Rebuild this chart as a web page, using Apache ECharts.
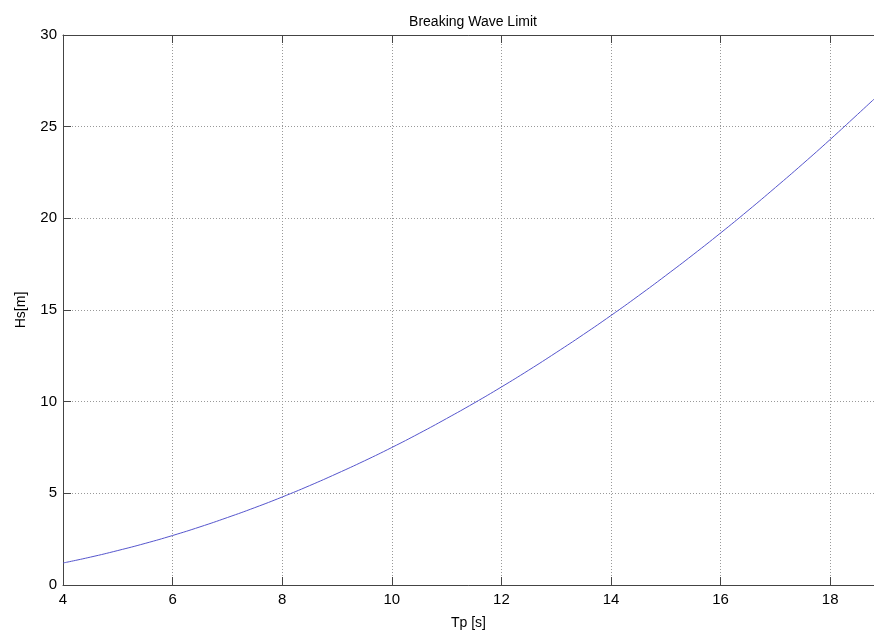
<!DOCTYPE html>
<html><head><meta charset="utf-8">
<script src="https://cdn.jsdelivr.net/npm/echarts@6/dist/echarts.min.js"></script>
<style>html,body{margin:0;padding:0;background:#fff}#c{width:874px;height:635px}</style>
</head><body><div id="c"></div>
<script>
const tp = [4,4.5,5,5.5,6,6.5,7,7.5,8,8.5,9,9.5,10,10.5,11,11.5,12,12.5,13,13.5,14,14.5,15,15.5,16,16.5,17,17.5,18,18.5,18.8];
const hs = [1.2,1.52,1.88,2.27,2.7,3.17,3.68,4.22,4.8,5.42,6.08,6.77,7.5,8.27,9.08,9.92,10.8,11.72,12.68,13.67,14.7,15.77,16.88,18.02,19.2,20.42,21.68,22.97,24.3,25.67,26.5];
const title = 'Breaking Wave Limit';
const xName = 'Tp [s]';
const yName = 'Hs[m]';

const chart = echarts.init(document.getElementById('c'), null, {renderer:'canvas'});
const axisColor = '#444';
const font = 'Liberation Sans, Arial, sans-serif';
chart.setOption({
  animation:false,
  backgroundColor:'#fff',
  title:{text:title,left:468,top:10,textAlign:'center',textStyle:{fontSize:14,fontWeight:'normal',color:'#000',fontFamily:font}},
  grid:{left:63,top:35,right:0,bottom:44,containLabel:false},
  xAxis:[{type:'value',min:4,max:18.8,interval:2,
    name:xName,nameLocation:'middle',nameGap:31,nameTextStyle:{fontSize:14,color:'#000',fontFamily:font},
    axisLine:{show:true,lineStyle:{color:axisColor,width:1}},
    axisTick:{show:true,inside:true,length:8,lineStyle:{color:axisColor}},
    axisLabel:{fontSize:15,color:'#000',margin:7,fontFamily:font,showMaxLabel:false},
    splitLine:{show:true,lineStyle:{color:'#999',type:[1,2],width:1}}},
   {type:'value',position:'top',min:4,max:18.8,interval:2,
    axisLine:{show:true,lineStyle:{color:axisColor,width:1}},
    axisTick:{show:true,inside:true,length:8,lineStyle:{color:axisColor}},
    axisLabel:{show:false},splitLine:{show:false}}],
  yAxis:{type:'value',min:0,max:30,interval:5,
    name:yName,nameLocation:'middle',nameGap:35,nameRotate:90,nameTextStyle:{fontSize:14,color:'#000',fontFamily:font},
    axisLine:{show:true,lineStyle:{color:axisColor,width:1}},
    axisTick:{show:true,inside:true,length:8,lineStyle:{color:axisColor}},
    axisLabel:{fontSize:15,color:'#000',margin:6,fontFamily:font},
    splitLine:{show:true,lineStyle:{color:'#999',type:[1,2],width:1}}},
  series:[{type:'line',data:tp.map((t,i)=>[t,hs[i]]),smooth:true,showSymbol:false,
    lineStyle:{color:'#5555cc',width:1},xAxisIndex:0}]
});
</script></body></html>
